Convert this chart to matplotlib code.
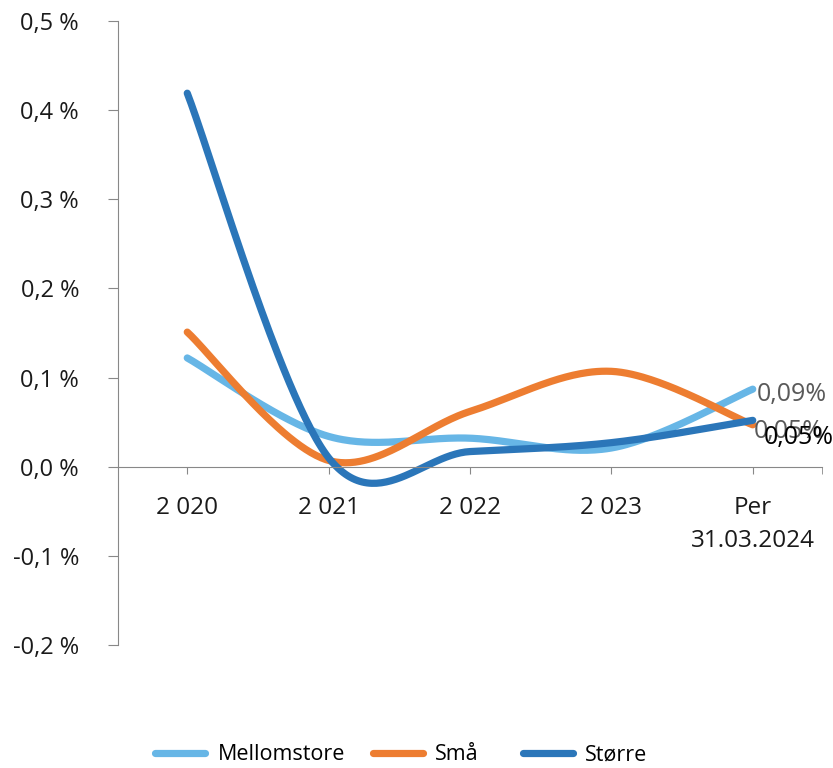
import numpy as np
import matplotlib
matplotlib.use("Agg")
import matplotlib.pyplot as plt
from matplotlib.lines import Line2D

plt.rcParams['font.family'] = ['Open Sans', 'DejaVu Sans']

categories = ["2 020", "2 021", "2 022", "2 023", "Per\n31.03.2024"]
mellomstore = [0.122, 0.034, 0.032, 0.021, 0.087]
smaa = [0.151, 0.007, 0.062, 0.107, 0.047]
storre = [0.419, 0.010, 0.017, 0.027, 0.052]
end_labels = ["0,09%", "0,05%", "0,05%"]
yticks = [-0.2, -0.1, 0.0, 0.1, 0.2, 0.3, 0.4, 0.5]
ytick_labels = ["-0,2 %", "-0,1 %", "0,0 %", "0,1 %", "0,2 %", "0,3 %", "0,4 %", "0,5 %"]

colors = {"Mellomstore": "#67B6E6", "Små": "#ED7D31", "Større": "#2B76B9"}


def smooth(y, n=60):
    # excel-like smoothed line: catmull-rom as cubic bezier
    y = np.asarray(y, float)
    x = np.arange(len(y), dtype=float)
    px = np.concatenate([[x[0]], x, [x[-1]]])
    py = np.concatenate([[y[0]], y, [y[-1]]])
    xs, ys = [], []
    t = np.linspace(0, 1, n)
    for i in range(len(y) - 1):
        p0 = np.array([px[i + 1], py[i + 1]])
        p3 = np.array([px[i + 2], py[i + 2]])
        c1 = p0 + (p3 - np.array([px[i], py[i]])) / 6
        c2 = p3 - (np.array([px[i + 3], py[i + 3]]) - p0) / 6
        b = ((1 - t) ** 3)[:, None] * p0 + (3 * (1 - t) ** 2 * t)[:, None] * c1 \
            + (3 * (1 - t) * t ** 2)[:, None] * c2 + (t ** 3)[:, None] * p3
        xs.append(b[:, 0])
        ys.append(b[:, 1])
    return np.concatenate(xs), np.concatenate(ys)


fig = plt.figure(figsize=(8.33, 7.68), dpi=100)
ax = fig.add_axes([118 / 833, 1 - 645 / 768, 704 / 833, 624 / 768])

series = [("Mellomstore", mellomstore), ("Små", smaa), ("Større", storre)]
for name, vals in series:
    sx, sy = smooth(vals)
    ax.plot(sx, sy, color=colors[name], lw=5.2, solid_capstyle='round', label=name)

ax.set_xlim(-0.49, 4.49)
ax.set_ylim(-0.2, 0.5)

ax.set_yticks(yticks)
ax.set_yticklabels(ytick_labels)
ax.set_xticks(range(len(categories)))
ax.set_xticklabels(categories)
ax.set_xticks([-0.49, 4.49], minor=True)

for s in ["top", "right"]:
    ax.spines[s].set_visible(False)
ax.spines["bottom"].set_position(("data", 0))
ax.spines["left"].set_color("#888888")
ax.spines["bottom"].set_color("#888888")
ax.tick_params(axis="y", length=7, color="#888888", pad=21, labelsize=17, labelcolor="#1a1a1a")
ax.tick_params(axis="x", which="both", length=5, direction="out", color="#888888", pad=16,
               labelsize=17.5, labelcolor="#1a1a1a")
for lbl in ax.get_xticklabels():
    lbl.set_linespacing(1.5)

# end labels
last = len(categories) - 1
ax.annotate(end_labels[0], (last, mellomstore[-1]), xytext=(3, -4), textcoords="offset points",
            fontsize=18, color="#595959", va="center", ha="left")
ax.annotate(end_labels[1], (last, smaa[-1]), xytext=(1, -5), textcoords="offset points",
            fontsize=18, color="#595959", va="center", ha="left")
ax.annotate(end_labels[2], (last, storre[-1]), xytext=(8, -12), textcoords="offset points",
            fontsize=18, color="#000000", va="center", ha="left")

# legend entries placed like the excel legend
leg_x = [155, 373, 523]
for (name, _), lx in zip(series, leg_x):
    h = Line2D([], [], color=colors[name], lw=5.2, solid_capstyle='round')
    fig.legend([h], [name], loc="center left", bbox_to_anchor=(lx / 833, 1 - 755 / 768),
               frameon=False, fontsize=15.5, handlelength=2.3, handletextpad=0.6,
               borderpad=0, borderaxespad=0)

fig.savefig("out.png", dpi=100)
